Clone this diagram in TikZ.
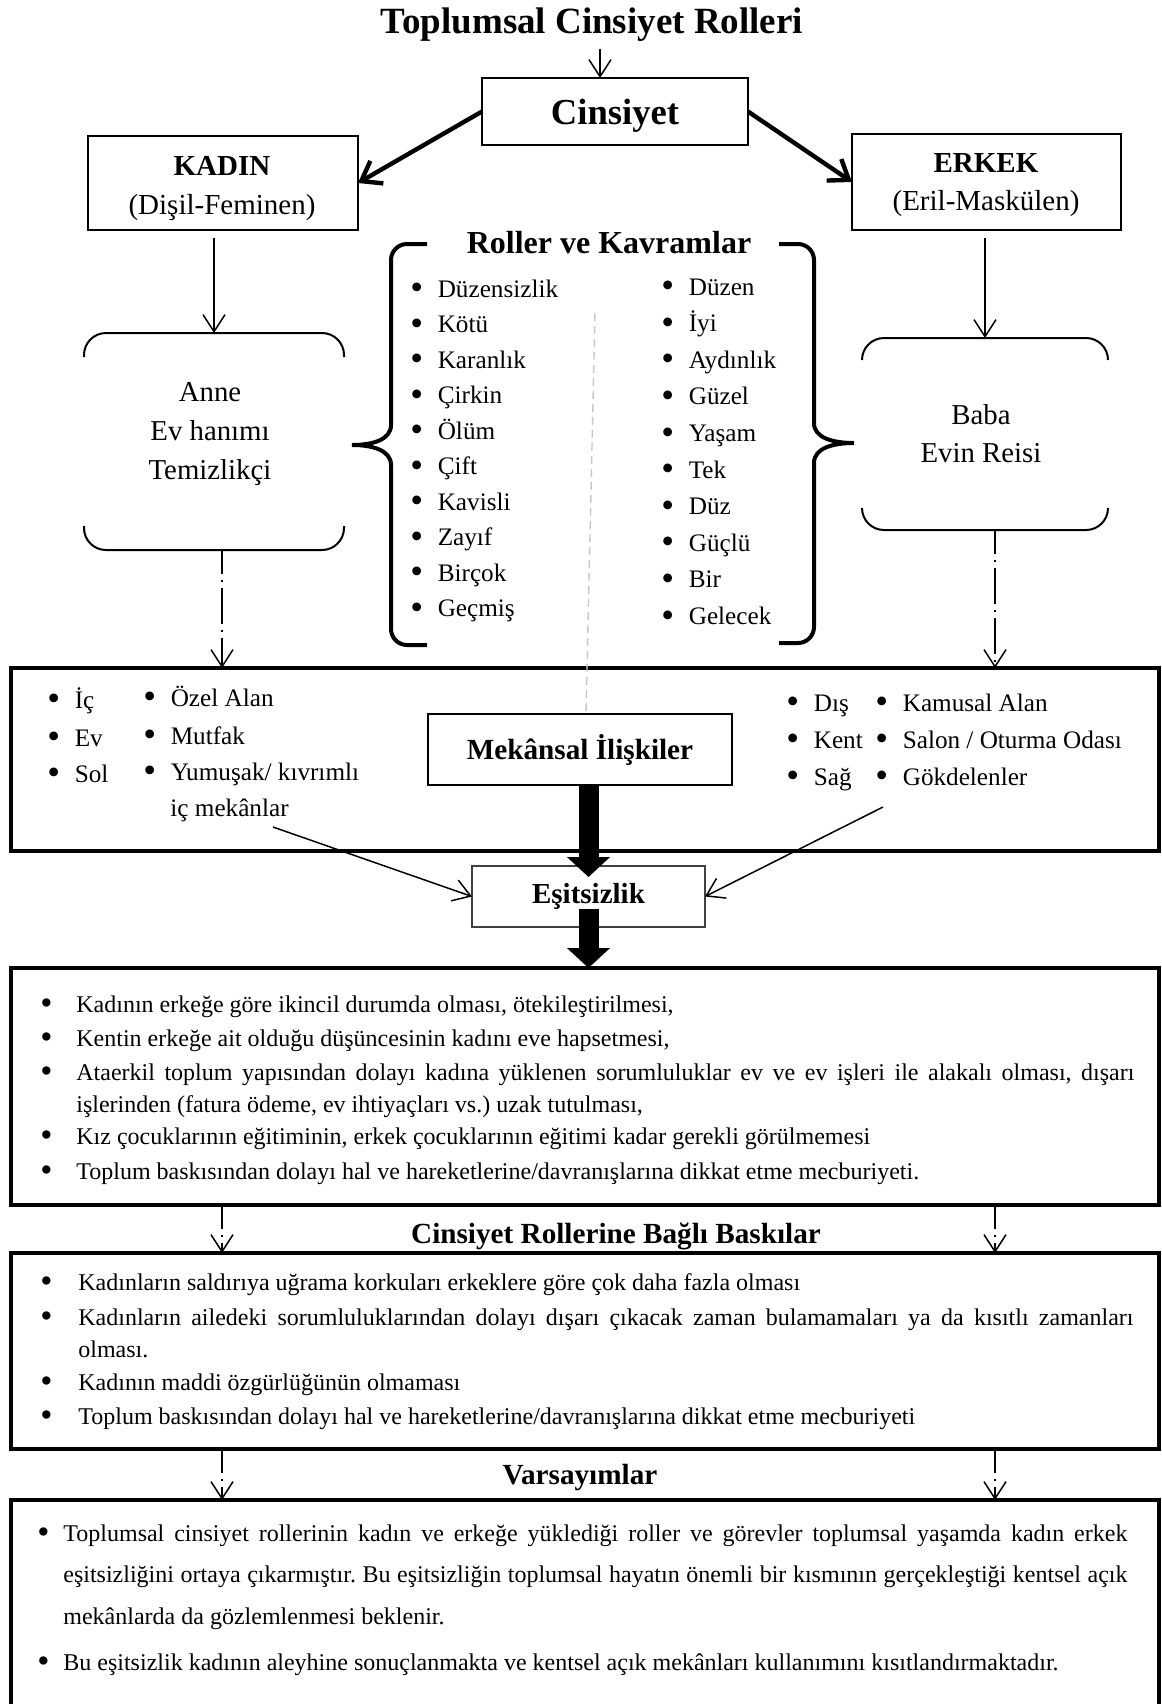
\documentclass[tikz,border=0pt]{standalone}
\usepackage{fontspec}
\usepackage{graphicx}
\setmainfont{Liberation Serif}
\usetikzlibrary{arrows.meta}
\hyphenpenalty=10000
\tolerance=9999
\frenchspacing
\newcommand{\nok}{\raisebox{-0.11em}{\scalebox{1.45}{\textbullet}}}
\newcommand{\bul}{\makebox[13.7pt][l]{\nok}}
\newcommand{\mad}[1]{\hspace*{-#1}\makebox[#1][l]{\nok}}
\tikzset{
  kutu/.style={draw, line width=1pt, outer sep=0pt},
  buyuk/.style={draw, line width=2.25pt, outer sep=0pt, minimum width=574pt},
  baslik/.style={font=\fontsize{14.6}{17}\selectfont\bfseries},
  ok/.style={-{Straight Barb[length=8.5pt,width=11pt]}, line width=0.75pt},
  kalin/.style={-{Straight Barb[length=9pt,width=13pt]}, line width=2.2pt},
  blok/.style={-{Triangle[length=10pt,width=21pt]}, line width=10pt},
  nokta/.style={ok, dash pattern=on 18pt off 3pt on 1pt off 3pt, dash phase=6pt},
  kose/.style={line width=1pt, rounded corners=11pt},
  ayrac/.style={line width=2pt},
  gri/.style={draw=black!22, line width=0.7pt, dash pattern=on 4pt off 2.5pt},
  madde/.style={anchor=base west, inner sep=0pt, font=\fontsize{12.6}{15}\selectfont},
  paragraf/.style={anchor=base west, inner sep=0pt, align=justify, font=\fontsize{12}{16}\selectfont\frenchspacing}
}
\begin{document}
\begin{tikzpicture}[x=0.5pt, y=-0.5pt]
\useasboundingbox (0,0) rectangle (1162,1704);
\coordinate (t1) at (600,0);
\coordinate (hatsol) at (222,0);
\coordinate (hatsag) at (995,0);
%
\node[font=\fontsize{18.5}{22}\selectfont\bfseries] (bas) at (592,25) {Toplumsal Cinsiyet Rolleri};
\node[kutu, text depth=0pt, minimum width=133pt, minimum height=33.5pt, font=\fontsize{18.3}{22}\selectfont\bfseries] (cins) at (615,111.5) {Cinsiyet};
\draw[ok] (bas.south -| t1) -- (cins.north -| t1);
%
\node[kutu, minimum width=135pt, minimum height=47pt] (kad) at (223,183) {};
\node[align=center, font=\fontsize{14.5}{19.5}\selectfont] (kadt) at (222,188.5) {\textbf{KADIN}\\(Dişil-Feminen)};
\node[kutu, minimum width=134.5pt, minimum height=48pt] (erk) at (986.5,182) {};
\node[align=center, font=\fontsize{14.5}{19}\selectfont] (erkt) at (986,185.5) {\textbf{ERKEK}\\(Eril-Maskülen)};
\draw[kalin] (cins.west) -- (kad.east);
\draw[kalin] (cins.east) -- (erk.west);
%
\node[outer sep=0pt, minimum width=130pt, minimum height=108.5pt] (anne) at (214,441.5) {};
\node[align=center, font=\fontsize{14.4}{19.5}\selectfont] (annet) at (210,434) {Anne\\Ev hanımı\\Temizlikçi};
\draw[kose] ([yshift=-12pt]anne.north west) -- (anne.north west) -- (anne.north east) -- ([yshift=-12pt]anne.north east);
\draw[kose] ([yshift=12pt]anne.south west) -- (anne.south west) -- (anne.south east) -- ([yshift=12pt]anne.south east);
\draw[ok, shorten <=4pt] (kad.south -| anne) -- (anne);
%
\node[outer sep=0pt, minimum width=123pt, minimum height=96pt] (baba) at (985,434) {};
\node[align=center, font=\fontsize{14.4}{19}\selectfont] (babat) at (981,434) {Baba\\Evin Reisi};
\draw[kose] ([yshift=-11pt]baba.north west) -- (baba.north west) -- (baba.north east) -- ([yshift=-11pt]baba.north east);
\draw[kose] ([yshift=11pt]baba.south west) -- (baba.south west) -- (baba.south east) -- ([yshift=11pt]baba.south east);
\draw[ok, shorten <=4pt] (erk.south -| baba) -- (baba);
%
\node[font=\fontsize{16}{19}\selectfont\bfseries] (rk) at (609,243) {Roller ve Kavramlar};
\draw[ayrac] (427,244) [rounded corners=8pt] -- (391,244) -- (391,330) [sharp corners] -- (391,425)
  .. controls (391,440) and (372,445) .. (352,445)
  .. controls (372,445) and (391,450) .. (391,465)
  [rounded corners=8pt] -- (391,645) -- (427,645);
\draw[ayrac] (779,244) [rounded corners=8pt] -- (814,244) -- (814,330) [sharp corners] -- (814,423)
  .. controls (814,438) and (833,443) .. (854,443)
  .. controls (833,443) and (814,448) .. (814,463)
  [rounded corners=8pt] -- (814,643) -- (779,643);
%
\node[madde] (duzensiz) at (410,297) {\bul Düzensizlik};
\node[madde] (kotu) at (410,332.5) {\bul Kötü};
\node[madde] (karanlik) at (410,368) {\bul Karanlık};
\node[madde] (cirkin) at (410,403.5) {\bul Çirkin};
\node[madde] (olum) at (410,439) {\bul Ölüm};
\node[madde] (cift) at (410,474.5) {\bul Çift};
\node[madde] (kavisli) at (410,510) {\bul Kavisli};
\node[madde] (zayif) at (410,545.5) {\bul Zayıf};
\node[madde] (bircok) at (410,581) {\bul Birçok};
\node[madde] (gecmis) at (410,616.5) {\bul Geçmiş};
%
\node[madde] (duzen) at (661,295) {\bul Düzen};
\node[madde] (iyi) at (661,331.6) {\bul İyi};
\node[madde] (aydinlik) at (661,368.2) {\bul Aydınlık};
\node[madde] (guzel) at (661,404.8) {\bul Güzel};
\node[madde] (yasam) at (661,441.4) {\bul Yaşam};
\node[madde] (tek) at (661,478) {\bul Tek};
\node[madde] (duz) at (661,514.6) {\bul Düz};
\node[madde] (guclu) at (661,551.2) {\bul Güçlü};
\node[madde] (bir) at (661,587.8) {\bul Bir};
\node[madde] (gelecek) at (661,624.4) {\bul Gelecek};
%
\node[buyuk, minimum height=91.5pt] (mkut) at (585,759.5) {};
\draw[nokta] (anne.south -| hatsol) -- (mkut.north -| hatsol);
\draw[nokta] (baba.south -| hatsag) -- (mkut.north -| hatsag);
%
\node[madde] (ic) at (47,708) {\bul İç};
\node[madde] (ev) at (47,746) {\bul Ev};
\node[madde] (sol) at (47,782) {\bul Sol};
\node[madde] (ozel) at (143,706) {\bul Özel Alan};
\node[madde] (mutfak) at (143,744) {\bul Mutfak};
\node[madde] (yumusak) at (143,780) {\bul Yumuşak/ kıvrımlı};
\node[madde] (icmek) at (170,816) {iç mekânlar};
%
\node[madde] (dis) at (786,711) {\bul Dış};
\node[madde] (kent) at (786,748) {\bul Kent};
\node[madde] (sag) at (786,785) {\bul Sağ};
\node[madde] (kamusal) at (875,711) {\bul Kamusal Alan};
\node[madde] (salon) at (875,748) {\bul Salon / Oturma Odası};
\node[madde] (gokdelen) at (875,785) {\bul Gökdelenler};
%
\node[kutu, fill=white, minimum width=152pt, minimum height=35.5pt, font=\fontsize{14.6}{17}\selectfont\bfseries] (mekil) at (580,749.5) {Mekânsal İlişkiler};
\coordinate (g1) at (595,313);
\coordinate (g2) at (586,714);
\draw[gri] (g1) -- (g2);
%
\node[kutu, line width=0.6pt, draw=black!75, minimum width=116.5pt, minimum height=30.5pt, font=\fontsize{14.5}{17}\selectfont\bfseries] (esit) at (588.5,896.5) {Eşitsizlik};
\coordinate (ib1) at (273,827);
\coordinate (ib2) at (883,807);
\draw[ok] (ib1) -- (esit.west);
\draw[ok] (ib2) -- (esit.east);
\draw[blok] (mekil.south -| esit) -- ([yshift=-5.5pt]esit.north);
%
\node[buyuk, minimum height=118.5pt] (kutu2) at (585,1086.5) {};
\draw[blok] ([yshift=9pt]esit.south) -- (kutu2.north -| esit);
\node[paragraf, text width=529pt] (m1) at (76,1012) {\mad{18pt}Kadının erkeğe göre ikincil durumda olması, ötekileştirilmesi,};
\node[paragraf, text width=529pt] (m2) at (76,1046) {\mad{18pt}Kentin erkeğe ait olduğu düşüncesinin kadını eve hapsetmesi,};
\node[paragraf, text width=529pt] (m3) at (76,1080) {\mad{18pt}Ataerkil toplum yapısından dolayı kadına yüklenen sorumluluklar ev ve ev işleri ile alakalı olması, dışarı\linebreak işlerinden (fatura ödeme, ev ihtiyaçları vs.) uzak tutulması,};
\node[paragraf, text width=529pt] (m4) at (76,1144) {\mad{18pt}Kız çocuklarının eğitiminin, erkek çocuklarının eğitimi kadar gerekli görülmemesi};
\node[paragraf, text width=529pt] (m5) at (76,1179) {\mad{18pt}Toplum baskısından dolayı hal ve hareketlerine/davranışlarına dikkat etme mecburiyeti.};
%
\node[baslik] (crb) at (616,1236) {Cinsiyet Rollerine Bağlı Baskılar};
\node[buyuk, minimum height=98pt] (kutu3) at (585,1351) {};
\draw[nokta] (kutu2.south -| hatsol) -- (kutu3.north -| hatsol);
\draw[nokta] (kutu2.south -| hatsag) -- (kutu3.north -| hatsag);
\node[paragraf, text width=527.5pt] (b1) at (78,1290) {\mad{19pt}Kadınların saldırıya uğrama korkuları erkeklere göre çok daha fazla olması};
\node[paragraf, text width=527.5pt] (b2) at (78,1325) {\mad{19pt}Kadınların ailedeki sorumluluklarından dolayı dışarı çıkacak zaman bulamamaları ya da kısıtlı zamanları\linebreak olması.};
\node[paragraf, text width=527.5pt] (b3) at (78,1390) {\mad{19pt}Kadının maddi özgürlüğünün olmaması};
\node[paragraf, text width=527.5pt] (b4) at (78,1424) {\mad{19pt}Toplum baskısından dolayı hal ve hareketlerine/davranışlarına dikkat etme mecburiyeti};
%
\node[baslik] (vars) at (580,1478) {Varsayımlar};
\node[buyuk, minimum height=106pt] (kutu4) at (585,1606) {};
\draw[nokta] (kutu3.south -| hatsol) -- (kutu4.north -| hatsol);
\draw[nokta] (kutu3.south -| hatsag) -- (kutu4.north -| hatsag);
\node[paragraf, text width=532pt, font=\fontsize{12}{20.75}\selectfont\frenchspacing] (v1) at (63,1541) {\mad{13pt}Toplumsal cinsiyet rollerinin kadın ve erkeğe yüklediği roller ve görevler toplumsal yaşamda kadın erkek\linebreak eşitsizliğini ortaya çıkarmıştır. Bu eşitsizliğin toplumsal hayatın önemli bir kısmının gerçekleştiği kentsel açık\linebreak mekânlarda da gözlemlenmesi beklenir.};
\node[paragraf, text width=532pt] (v2) at (63,1670) {\mad{13pt}Bu eşitsizlik kadının aleyhine sonuçlanmakta ve kentsel açık mekânları kullanımını kısıtlandırmaktadır.};
\end{tikzpicture}
\end{document}
